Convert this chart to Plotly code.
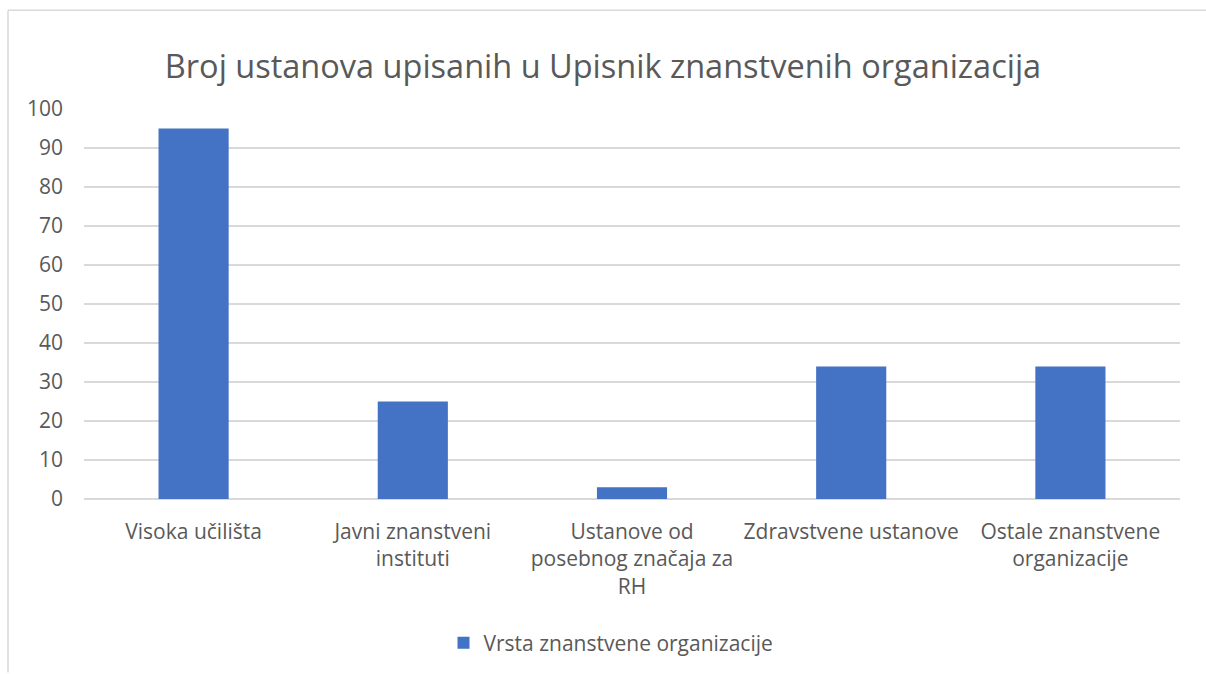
import plotly.graph_objects as go

categories = ["Visoka učilišta", "Javni znanstveni<br>instituti",
              "Ustanove od<br>posebnog značaja za<br>RH", "Zdravstvene ustanove",
              "Ostale znanstvene<br>organizacije"]
values = [95, 25, 3, 34, 34]
series_name = "Vrsta znanstvene organizacije"
title = "Broj ustanova upisanih u Upisnik znanstvenih organizacija"

W, H = 1206, 674
L, R, T, B = 84, 26, 109, 174
pw, ph = W - L - R, H - T - B

def px_x(x):
    return (x - L) / pw

def px_y(y):
    return (H - B - y) / ph

font = "'Open Sans', sans-serif"
grey = "#595959"
fs = 21

fig = go.Figure(go.Bar(x=categories, y=values, name=series_name,
                       marker=dict(color="#4472c4", line=dict(width=0)),
                       showlegend=True))

fig.update_layout(
    width=W, height=H,
    margin=dict(l=L, r=R, t=T, b=B),
    paper_bgcolor="white", plot_bgcolor="white",
    font=dict(family=font, color=grey, size=fs),
    title=dict(text=title, x=0.5, xanchor="center", y=1 - 67 / H, yanchor="middle",
               font=dict(size=32.5, color=grey, family=font)),
    bargap=0.68,
    showlegend=True,
    legend=dict(orientation="h", x=0.5 - 21 / pw, xanchor="center", y=px_y(643), yanchor="middle",
                font=dict(size=fs, color=grey), itemwidth=30),
    xaxis=dict(showgrid=False, showline=False, ticks="", tickangle=0,
               ticklabelstandoff=18, tickfont=dict(size=fs, color=grey)),
    yaxis=dict(range=[0, 100], dtick=10, showgrid=True, gridcolor="#d9d9d9", gridwidth=1.5,
               zeroline=True, zerolinecolor="#d9d9d9", zerolinewidth=1.5,
               showline=False, ticks="", ticklabelstandoff=20,
               tickfont=dict(size=fs, color=grey)),
    shapes=[
        dict(type="line", xref="paper", yref="paper", x0=px_x(8), x1=px_x(1206),
             y0=px_y(10), y1=px_y(10), line=dict(color="#d9d9d9", width=1.5)),
        dict(type="line", xref="paper", yref="paper", x0=px_x(8), x1=px_x(8),
             y0=px_y(10), y1=px_y(674), line=dict(color="#d9d9d9", width=1.5)),
    ],
)

fig.write_html("out.html")
